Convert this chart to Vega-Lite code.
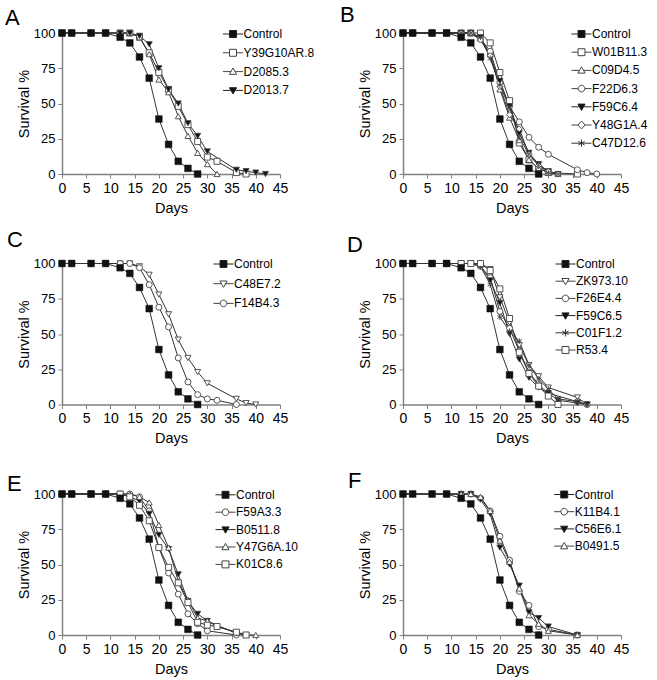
{
"$schema": "https://vega.github.io/schema/vega-lite/v6.json",
"padding": {"left": 5, "top": 4, "right": 5, "bottom": 5},
"datasets": {"surv": [
{"panel":"all","series":"Control","day":0,"pct":100},{"panel":"all","series":"Control","day":2,"pct":100},{"panel":"all","series":"Control","day":6,"pct":100},{"panel":"all","series":"Control","day":9,"pct":100},{"panel":"all","series":"Control","day":12,"pct":97},{"panel":"all","series":"Control","day":14,"pct":93},{"panel":"all","series":"Control","day":16,"pct":83},{"panel":"all","series":"Control","day":18,"pct":68},{"panel":"all","series":"Control","day":20,"pct":39},{"panel":"all","series":"Control","day":22,"pct":21},{"panel":"all","series":"Control","day":24,"pct":9},{"panel":"all","series":"Control","day":26,"pct":4},{"panel":"all","series":"Control","day":28,"pct":0},

{"panel":"A","series":"Y39G10AR.8","day":0,"pct":100},{"panel":"A","series":"Y39G10AR.8","day":2,"pct":100},{"panel":"A","series":"Y39G10AR.8","day":6,"pct":100},{"panel":"A","series":"Y39G10AR.8","day":9,"pct":100},{"panel":"A","series":"Y39G10AR.8","day":12,"pct":100},{"panel":"A","series":"Y39G10AR.8","day":14,"pct":100},{"panel":"A","series":"Y39G10AR.8","day":16,"pct":97},{"panel":"A","series":"Y39G10AR.8","day":18,"pct":86},{"panel":"A","series":"Y39G10AR.8","day":20,"pct":72},{"panel":"A","series":"Y39G10AR.8","day":22,"pct":60},{"panel":"A","series":"Y39G10AR.8","day":24,"pct":48},{"panel":"A","series":"Y39G10AR.8","day":26,"pct":35},{"panel":"A","series":"Y39G10AR.8","day":28,"pct":23},{"panel":"A","series":"Y39G10AR.8","day":30,"pct":12},{"panel":"A","series":"Y39G10AR.8","day":32,"pct":9},{"panel":"A","series":"Y39G10AR.8","day":36,"pct":1},{"panel":"A","series":"Y39G10AR.8","day":38,"pct":0},
{"panel":"A","series":"D2085.3","day":0,"pct":100},{"panel":"A","series":"D2085.3","day":2,"pct":100},{"panel":"A","series":"D2085.3","day":6,"pct":100},{"panel":"A","series":"D2085.3","day":9,"pct":100},{"panel":"A","series":"D2085.3","day":12,"pct":100},{"panel":"A","series":"D2085.3","day":14,"pct":100},{"panel":"A","series":"D2085.3","day":16,"pct":97},{"panel":"A","series":"D2085.3","day":18,"pct":85},{"panel":"A","series":"D2085.3","day":20,"pct":67},{"panel":"A","series":"D2085.3","day":22,"pct":58},{"panel":"A","series":"D2085.3","day":24,"pct":41},{"panel":"A","series":"D2085.3","day":26,"pct":27},{"panel":"A","series":"D2085.3","day":28,"pct":15},{"panel":"A","series":"D2085.3","day":30,"pct":7},{"panel":"A","series":"D2085.3","day":32,"pct":0},
{"panel":"A","series":"D2013.7","day":0,"pct":100},{"panel":"A","series":"D2013.7","day":2,"pct":100},{"panel":"A","series":"D2013.7","day":6,"pct":100},{"panel":"A","series":"D2013.7","day":9,"pct":100},{"panel":"A","series":"D2013.7","day":12,"pct":100},{"panel":"A","series":"D2013.7","day":14,"pct":100},{"panel":"A","series":"D2013.7","day":16,"pct":98},{"panel":"A","series":"D2013.7","day":18,"pct":92},{"panel":"A","series":"D2013.7","day":20,"pct":75},{"panel":"A","series":"D2013.7","day":22,"pct":60},{"panel":"A","series":"D2013.7","day":24,"pct":50},{"panel":"A","series":"D2013.7","day":26,"pct":36},{"panel":"A","series":"D2013.7","day":28,"pct":27},{"panel":"A","series":"D2013.7","day":30,"pct":16},{"panel":"A","series":"D2013.7","day":36,"pct":3},{"panel":"A","series":"D2013.7","day":38,"pct":2},{"panel":"A","series":"D2013.7","day":40,"pct":1},{"panel":"A","series":"D2013.7","day":42,"pct":0},

{"panel":"B","series":"W01B11.3","day":0,"pct":100},{"panel":"B","series":"W01B11.3","day":2,"pct":100},{"panel":"B","series":"W01B11.3","day":6,"pct":100},{"panel":"B","series":"W01B11.3","day":9,"pct":100},{"panel":"B","series":"W01B11.3","day":12,"pct":100},{"panel":"B","series":"W01B11.3","day":14,"pct":100},{"panel":"B","series":"W01B11.3","day":16,"pct":100},{"panel":"B","series":"W01B11.3","day":18,"pct":93},{"panel":"B","series":"W01B11.3","day":20,"pct":72},{"panel":"B","series":"W01B11.3","day":22,"pct":52},{"panel":"B","series":"W01B11.3","day":24,"pct":22},{"panel":"B","series":"W01B11.3","day":26,"pct":10},{"panel":"B","series":"W01B11.3","day":28,"pct":4},{"panel":"B","series":"W01B11.3","day":30,"pct":1},{"panel":"B","series":"W01B11.3","day":36,"pct":0},
{"panel":"B","series":"C09D4.5","day":0,"pct":100},{"panel":"B","series":"C09D4.5","day":2,"pct":100},{"panel":"B","series":"C09D4.5","day":6,"pct":100},{"panel":"B","series":"C09D4.5","day":9,"pct":100},{"panel":"B","series":"C09D4.5","day":12,"pct":100},{"panel":"B","series":"C09D4.5","day":14,"pct":100},{"panel":"B","series":"C09D4.5","day":16,"pct":96},{"panel":"B","series":"C09D4.5","day":18,"pct":85},{"panel":"B","series":"C09D4.5","day":20,"pct":60},{"panel":"B","series":"C09D4.5","day":22,"pct":40},{"panel":"B","series":"C09D4.5","day":24,"pct":24},{"panel":"B","series":"C09D4.5","day":26,"pct":10},{"panel":"B","series":"C09D4.5","day":28,"pct":4},{"panel":"B","series":"C09D4.5","day":30,"pct":1},{"panel":"B","series":"C09D4.5","day":32,"pct":0},
{"panel":"B","series":"F22D6.3","day":0,"pct":100},{"panel":"B","series":"F22D6.3","day":2,"pct":100},{"panel":"B","series":"F22D6.3","day":6,"pct":100},{"panel":"B","series":"F22D6.3","day":9,"pct":100},{"panel":"B","series":"F22D6.3","day":12,"pct":100},{"panel":"B","series":"F22D6.3","day":14,"pct":100},{"panel":"B","series":"F22D6.3","day":16,"pct":96},{"panel":"B","series":"F22D6.3","day":18,"pct":87},{"panel":"B","series":"F22D6.3","day":20,"pct":65},{"panel":"B","series":"F22D6.3","day":22,"pct":48},{"panel":"B","series":"F22D6.3","day":24,"pct":37},{"panel":"B","series":"F22D6.3","day":26,"pct":26},{"panel":"B","series":"F22D6.3","day":28,"pct":19},{"panel":"B","series":"F22D6.3","day":30,"pct":14},{"panel":"B","series":"F22D6.3","day":36,"pct":3},{"panel":"B","series":"F22D6.3","day":38,"pct":1},{"panel":"B","series":"F22D6.3","day":40,"pct":0},
{"panel":"B","series":"F59C6.4","day":0,"pct":100},{"panel":"B","series":"F59C6.4","day":2,"pct":100},{"panel":"B","series":"F59C6.4","day":6,"pct":100},{"panel":"B","series":"F59C6.4","day":9,"pct":100},{"panel":"B","series":"F59C6.4","day":12,"pct":100},{"panel":"B","series":"F59C6.4","day":14,"pct":100},{"panel":"B","series":"F59C6.4","day":16,"pct":97},{"panel":"B","series":"F59C6.4","day":18,"pct":83},{"panel":"B","series":"F59C6.4","day":20,"pct":66},{"panel":"B","series":"F59C6.4","day":22,"pct":48},{"panel":"B","series":"F59C6.4","day":24,"pct":29},{"panel":"B","series":"F59C6.4","day":26,"pct":15},{"panel":"B","series":"F59C6.4","day":28,"pct":7},{"panel":"B","series":"F59C6.4","day":30,"pct":2},{"panel":"B","series":"F59C6.4","day":32,"pct":0},
{"panel":"B","series":"Y48G1A.4","day":0,"pct":100},{"panel":"B","series":"Y48G1A.4","day":2,"pct":100},{"panel":"B","series":"Y48G1A.4","day":6,"pct":100},{"panel":"B","series":"Y48G1A.4","day":9,"pct":100},{"panel":"B","series":"Y48G1A.4","day":12,"pct":100},{"panel":"B","series":"Y48G1A.4","day":14,"pct":100},{"panel":"B","series":"Y48G1A.4","day":16,"pct":95},{"panel":"B","series":"Y48G1A.4","day":18,"pct":84},{"panel":"B","series":"Y48G1A.4","day":20,"pct":62},{"panel":"B","series":"Y48G1A.4","day":22,"pct":42},{"panel":"B","series":"Y48G1A.4","day":24,"pct":32},{"panel":"B","series":"Y48G1A.4","day":26,"pct":14},{"panel":"B","series":"Y48G1A.4","day":28,"pct":6},{"panel":"B","series":"Y48G1A.4","day":30,"pct":2},{"panel":"B","series":"Y48G1A.4","day":32,"pct":0},
{"panel":"B","series":"C47D12.6","day":0,"pct":100},{"panel":"B","series":"C47D12.6","day":2,"pct":100},{"panel":"B","series":"C47D12.6","day":6,"pct":100},{"panel":"B","series":"C47D12.6","day":9,"pct":100},{"panel":"B","series":"C47D12.6","day":12,"pct":100},{"panel":"B","series":"C47D12.6","day":14,"pct":100},{"panel":"B","series":"C47D12.6","day":16,"pct":97},{"panel":"B","series":"C47D12.6","day":18,"pct":82},{"panel":"B","series":"C47D12.6","day":20,"pct":63},{"panel":"B","series":"C47D12.6","day":22,"pct":47},{"panel":"B","series":"C47D12.6","day":24,"pct":26},{"panel":"B","series":"C47D12.6","day":26,"pct":14},{"panel":"B","series":"C47D12.6","day":28,"pct":6},{"panel":"B","series":"C47D12.6","day":30,"pct":1},{"panel":"B","series":"C47D12.6","day":32,"pct":0},

{"panel":"C","series":"C48E7.2","day":0,"pct":100},{"panel":"C","series":"C48E7.2","day":2,"pct":100},{"panel":"C","series":"C48E7.2","day":6,"pct":100},{"panel":"C","series":"C48E7.2","day":9,"pct":100},{"panel":"C","series":"C48E7.2","day":12,"pct":100},{"panel":"C","series":"C48E7.2","day":14,"pct":100},{"panel":"C","series":"C48E7.2","day":16,"pct":98},{"panel":"C","series":"C48E7.2","day":18,"pct":92},{"panel":"C","series":"C48E7.2","day":20,"pct":78},{"panel":"C","series":"C48E7.2","day":22,"pct":64},{"panel":"C","series":"C48E7.2","day":24,"pct":46},{"panel":"C","series":"C48E7.2","day":26,"pct":33},{"panel":"C","series":"C48E7.2","day":28,"pct":23},{"panel":"C","series":"C48E7.2","day":30,"pct":15},{"panel":"C","series":"C48E7.2","day":36,"pct":4},{"panel":"C","series":"C48E7.2","day":38,"pct":1},{"panel":"C","series":"C48E7.2","day":40,"pct":0},
{"panel":"C","series":"F14B4.3","day":0,"pct":100},{"panel":"C","series":"F14B4.3","day":2,"pct":100},{"panel":"C","series":"F14B4.3","day":6,"pct":100},{"panel":"C","series":"F14B4.3","day":9,"pct":100},{"panel":"C","series":"F14B4.3","day":12,"pct":100},{"panel":"C","series":"F14B4.3","day":14,"pct":100},{"panel":"C","series":"F14B4.3","day":16,"pct":97},{"panel":"C","series":"F14B4.3","day":18,"pct":85},{"panel":"C","series":"F14B4.3","day":20,"pct":69},{"panel":"C","series":"F14B4.3","day":22,"pct":55},{"panel":"C","series":"F14B4.3","day":24,"pct":33},{"panel":"C","series":"F14B4.3","day":26,"pct":16},{"panel":"C","series":"F14B4.3","day":28,"pct":7},{"panel":"C","series":"F14B4.3","day":30,"pct":4},{"panel":"C","series":"F14B4.3","day":32,"pct":3},{"panel":"C","series":"F14B4.3","day":36,"pct":0},

{"panel":"D","series":"ZK973.10","day":0,"pct":100},{"panel":"D","series":"ZK973.10","day":2,"pct":100},{"panel":"D","series":"ZK973.10","day":6,"pct":100},{"panel":"D","series":"ZK973.10","day":9,"pct":100},{"panel":"D","series":"ZK973.10","day":12,"pct":100},{"panel":"D","series":"ZK973.10","day":14,"pct":100},{"panel":"D","series":"ZK973.10","day":16,"pct":100},{"panel":"D","series":"ZK973.10","day":18,"pct":96},{"panel":"D","series":"ZK973.10","day":20,"pct":76},{"panel":"D","series":"ZK973.10","day":22,"pct":58},{"panel":"D","series":"ZK973.10","day":24,"pct":42},{"panel":"D","series":"ZK973.10","day":26,"pct":28},{"panel":"D","series":"ZK973.10","day":28,"pct":20},{"panel":"D","series":"ZK973.10","day":30,"pct":12},{"panel":"D","series":"ZK973.10","day":36,"pct":5},{"panel":"D","series":"ZK973.10","day":38,"pct":0},
{"panel":"D","series":"F26E4.4","day":0,"pct":100},{"panel":"D","series":"F26E4.4","day":2,"pct":100},{"panel":"D","series":"F26E4.4","day":6,"pct":100},{"panel":"D","series":"F26E4.4","day":9,"pct":100},{"panel":"D","series":"F26E4.4","day":12,"pct":100},{"panel":"D","series":"F26E4.4","day":14,"pct":100},{"panel":"D","series":"F26E4.4","day":16,"pct":98},{"panel":"D","series":"F26E4.4","day":18,"pct":90},{"panel":"D","series":"F26E4.4","day":20,"pct":66},{"panel":"D","series":"F26E4.4","day":22,"pct":54},{"panel":"D","series":"F26E4.4","day":24,"pct":38},{"panel":"D","series":"F26E4.4","day":26,"pct":23},{"panel":"D","series":"F26E4.4","day":28,"pct":14},{"panel":"D","series":"F26E4.4","day":30,"pct":8},{"panel":"D","series":"F26E4.4","day":36,"pct":2},{"panel":"D","series":"F26E4.4","day":38,"pct":0},
{"panel":"D","series":"F59C6.5","day":0,"pct":100},{"panel":"D","series":"F59C6.5","day":2,"pct":100},{"panel":"D","series":"F59C6.5","day":6,"pct":100},{"panel":"D","series":"F59C6.5","day":9,"pct":100},{"panel":"D","series":"F59C6.5","day":12,"pct":100},{"panel":"D","series":"F59C6.5","day":14,"pct":100},{"panel":"D","series":"F59C6.5","day":16,"pct":98},{"panel":"D","series":"F59C6.5","day":18,"pct":88},{"panel":"D","series":"F59C6.5","day":20,"pct":72},{"panel":"D","series":"F59C6.5","day":22,"pct":50},{"panel":"D","series":"F59C6.5","day":24,"pct":32},{"panel":"D","series":"F59C6.5","day":26,"pct":19},{"panel":"D","series":"F59C6.5","day":28,"pct":12},{"panel":"D","series":"F59C6.5","day":30,"pct":8},{"panel":"D","series":"F59C6.5","day":32,"pct":3},{"panel":"D","series":"F59C6.5","day":36,"pct":1},{"panel":"D","series":"F59C6.5","day":38,"pct":0},
{"panel":"D","series":"C01F1.2","day":0,"pct":100},{"panel":"D","series":"C01F1.2","day":2,"pct":100},{"panel":"D","series":"C01F1.2","day":6,"pct":100},{"panel":"D","series":"C01F1.2","day":9,"pct":100},{"panel":"D","series":"C01F1.2","day":12,"pct":100},{"panel":"D","series":"C01F1.2","day":14,"pct":100},{"panel":"D","series":"C01F1.2","day":16,"pct":98},{"panel":"D","series":"C01F1.2","day":18,"pct":85},{"panel":"D","series":"C01F1.2","day":20,"pct":62},{"panel":"D","series":"C01F1.2","day":22,"pct":52},{"panel":"D","series":"C01F1.2","day":24,"pct":45},{"panel":"D","series":"C01F1.2","day":26,"pct":28},{"panel":"D","series":"C01F1.2","day":28,"pct":18},{"panel":"D","series":"C01F1.2","day":30,"pct":11},{"panel":"D","series":"C01F1.2","day":32,"pct":4},{"panel":"D","series":"C01F1.2","day":36,"pct":2},{"panel":"D","series":"C01F1.2","day":38,"pct":0},
{"panel":"D","series":"R53.4","day":0,"pct":100},{"panel":"D","series":"R53.4","day":2,"pct":100},{"panel":"D","series":"R53.4","day":6,"pct":100},{"panel":"D","series":"R53.4","day":9,"pct":100},{"panel":"D","series":"R53.4","day":12,"pct":100},{"panel":"D","series":"R53.4","day":14,"pct":100},{"panel":"D","series":"R53.4","day":16,"pct":100},{"panel":"D","series":"R53.4","day":18,"pct":95},{"panel":"D","series":"R53.4","day":20,"pct":82},{"panel":"D","series":"R53.4","day":22,"pct":61},{"panel":"D","series":"R53.4","day":24,"pct":37},{"panel":"D","series":"R53.4","day":26,"pct":22},{"panel":"D","series":"R53.4","day":28,"pct":13},{"panel":"D","series":"R53.4","day":30,"pct":6},{"panel":"D","series":"R53.4","day":32,"pct":0},

{"panel":"E","series":"F59A3.3","day":0,"pct":100},{"panel":"E","series":"F59A3.3","day":2,"pct":100},{"panel":"E","series":"F59A3.3","day":6,"pct":100},{"panel":"E","series":"F59A3.3","day":9,"pct":100},{"panel":"E","series":"F59A3.3","day":12,"pct":100},{"panel":"E","series":"F59A3.3","day":14,"pct":100},{"panel":"E","series":"F59A3.3","day":16,"pct":98},{"panel":"E","series":"F59A3.3","day":18,"pct":88},{"panel":"E","series":"F59A3.3","day":20,"pct":62},{"panel":"E","series":"F59A3.3","day":22,"pct":44},{"panel":"E","series":"F59A3.3","day":24,"pct":29},{"panel":"E","series":"F59A3.3","day":26,"pct":15},{"panel":"E","series":"F59A3.3","day":28,"pct":8},{"panel":"E","series":"F59A3.3","day":30,"pct":3},{"panel":"E","series":"F59A3.3","day":36,"pct":0},
{"panel":"E","series":"B0511.8","day":0,"pct":100},{"panel":"E","series":"B0511.8","day":2,"pct":100},{"panel":"E","series":"B0511.8","day":6,"pct":100},{"panel":"E","series":"B0511.8","day":9,"pct":100},{"panel":"E","series":"B0511.8","day":12,"pct":100},{"panel":"E","series":"B0511.8","day":14,"pct":98},{"panel":"E","series":"B0511.8","day":16,"pct":95},{"panel":"E","series":"B0511.8","day":18,"pct":86},{"panel":"E","series":"B0511.8","day":20,"pct":71},{"panel":"E","series":"B0511.8","day":22,"pct":61},{"panel":"E","series":"B0511.8","day":24,"pct":43},{"panel":"E","series":"B0511.8","day":26,"pct":24},{"panel":"E","series":"B0511.8","day":28,"pct":15},{"panel":"E","series":"B0511.8","day":30,"pct":10},{"panel":"E","series":"B0511.8","day":36,"pct":1},{"panel":"E","series":"B0511.8","day":38,"pct":0},
{"panel":"E","series":"Y47G6A.10","day":0,"pct":100},{"panel":"E","series":"Y47G6A.10","day":2,"pct":100},{"panel":"E","series":"Y47G6A.10","day":6,"pct":100},{"panel":"E","series":"Y47G6A.10","day":9,"pct":100},{"panel":"E","series":"Y47G6A.10","day":12,"pct":100},{"panel":"E","series":"Y47G6A.10","day":14,"pct":100},{"panel":"E","series":"Y47G6A.10","day":16,"pct":98},{"panel":"E","series":"Y47G6A.10","day":18,"pct":94},{"panel":"E","series":"Y47G6A.10","day":20,"pct":78},{"panel":"E","series":"Y47G6A.10","day":22,"pct":62},{"panel":"E","series":"Y47G6A.10","day":24,"pct":38},{"panel":"E","series":"Y47G6A.10","day":26,"pct":25},{"panel":"E","series":"Y47G6A.10","day":28,"pct":12},{"panel":"E","series":"Y47G6A.10","day":30,"pct":10},{"panel":"E","series":"Y47G6A.10","day":32,"pct":6},{"panel":"E","series":"Y47G6A.10","day":36,"pct":2},{"panel":"E","series":"Y47G6A.10","day":38,"pct":0},{"panel":"E","series":"Y47G6A.10","day":40,"pct":0},
{"panel":"E","series":"K01C8.6","day":0,"pct":100},{"panel":"E","series":"K01C8.6","day":2,"pct":100},{"panel":"E","series":"K01C8.6","day":6,"pct":100},{"panel":"E","series":"K01C8.6","day":9,"pct":100},{"panel":"E","series":"K01C8.6","day":12,"pct":100},{"panel":"E","series":"K01C8.6","day":14,"pct":98},{"panel":"E","series":"K01C8.6","day":16,"pct":92},{"panel":"E","series":"K01C8.6","day":18,"pct":81},{"panel":"E","series":"K01C8.6","day":20,"pct":62},{"panel":"E","series":"K01C8.6","day":22,"pct":48},{"panel":"E","series":"K01C8.6","day":24,"pct":37},{"panel":"E","series":"K01C8.6","day":26,"pct":23},{"panel":"E","series":"K01C8.6","day":28,"pct":9},{"panel":"E","series":"K01C8.6","day":30,"pct":7},{"panel":"E","series":"K01C8.6","day":32,"pct":6},{"panel":"E","series":"K01C8.6","day":36,"pct":2},{"panel":"E","series":"K01C8.6","day":38,"pct":0},

{"panel":"F","series":"K11B4.1","day":0,"pct":100},{"panel":"F","series":"K11B4.1","day":2,"pct":100},{"panel":"F","series":"K11B4.1","day":6,"pct":100},{"panel":"F","series":"K11B4.1","day":9,"pct":100},{"panel":"F","series":"K11B4.1","day":12,"pct":100},{"panel":"F","series":"K11B4.1","day":14,"pct":100},{"panel":"F","series":"K11B4.1","day":16,"pct":97},{"panel":"F","series":"K11B4.1","day":18,"pct":88},{"panel":"F","series":"K11B4.1","day":20,"pct":70},{"panel":"F","series":"K11B4.1","day":22,"pct":53},{"panel":"F","series":"K11B4.1","day":24,"pct":31},{"panel":"F","series":"K11B4.1","day":26,"pct":21},{"panel":"F","series":"K11B4.1","day":28,"pct":6},{"panel":"F","series":"K11B4.1","day":30,"pct":4},{"panel":"F","series":"K11B4.1","day":36,"pct":0},
{"panel":"F","series":"C56E6.1","day":0,"pct":100},{"panel":"F","series":"C56E6.1","day":2,"pct":100},{"panel":"F","series":"C56E6.1","day":6,"pct":100},{"panel":"F","series":"C56E6.1","day":9,"pct":100},{"panel":"F","series":"C56E6.1","day":12,"pct":100},{"panel":"F","series":"C56E6.1","day":14,"pct":100},{"panel":"F","series":"C56E6.1","day":16,"pct":96},{"panel":"F","series":"C56E6.1","day":18,"pct":86},{"panel":"F","series":"C56E6.1","day":20,"pct":62},{"panel":"F","series":"C56E6.1","day":22,"pct":50},{"panel":"F","series":"C56E6.1","day":24,"pct":35},{"panel":"F","series":"C56E6.1","day":26,"pct":16},{"panel":"F","series":"C56E6.1","day":28,"pct":12},{"panel":"F","series":"C56E6.1","day":30,"pct":6},{"panel":"F","series":"C56E6.1","day":36,"pct":0},
{"panel":"F","series":"B0491.5","day":0,"pct":100},{"panel":"F","series":"B0491.5","day":2,"pct":100},{"panel":"F","series":"B0491.5","day":6,"pct":100},{"panel":"F","series":"B0491.5","day":9,"pct":100},{"panel":"F","series":"B0491.5","day":12,"pct":100},{"panel":"F","series":"B0491.5","day":14,"pct":100},{"panel":"F","series":"B0491.5","day":16,"pct":98},{"panel":"F","series":"B0491.5","day":18,"pct":88},{"panel":"F","series":"B0491.5","day":20,"pct":67},{"panel":"F","series":"B0491.5","day":22,"pct":52},{"panel":"F","series":"B0491.5","day":24,"pct":33},{"panel":"F","series":"B0491.5","day":26,"pct":14},{"panel":"F","series":"B0491.5","day":28,"pct":8},{"panel":"F","series":"B0491.5","day":30,"pct":3},{"panel":"F","series":"B0491.5","day":36,"pct":0}
]},
"columns": 2,
"spacing": {"row": 89.5, "column": 123},
"bounds": "flush",
"concat": [
{
 "data": {"name": "surv"}, "width": 218, "height": 141,
 "title": {"text": "A", "dx": -57, "offset": -3},
 "transform": [{"filter": "datum.panel === 'A' || datum.panel === 'all'"}],
 "encoding": {
  "x": {"field": "day", "type": "quantitative", "scale": {"domain": [0, 45], "nice": false}, "axis": {"title": "Days", "values": [0,5,10,15,20,25,30,35,40,45]}},
  "y": {"field": "pct", "type": "quantitative", "scale": {"domain": [0, 100]}, "axis": {"title": "Survival %", "values": [0,25,50,75,100]}}
 },
 "layer": [
  {"mark": {"type": "line", "stroke": "#333", "strokeWidth": 1}, "encoding": {"detail": {"field": "series"}}},
  {"transform": [{"filter": "datum.series !== 'Control'"}], "mark": {"type": "point", "filled": true, "stroke": "#444", "strokeWidth": 0.9, "size": 36, "opacity": 1},
   "encoding": {
    "shape": {"field": "series", "scale": {"domain": ["Control","Y39G10AR.8","D2085.3","D2013.7"], "range": ["square","square","triangle-up","triangle-down"]}, "legend": null},
    "fill": {"field": "series", "scale": {"domain": ["Control","Y39G10AR.8","D2085.3","D2013.7"], "range": ["#111","white","white","#111"]}, "legend": null}}},
  {"transform": [{"filter": "datum.series === 'Control'"}], "mark": {"type": "point", "shape": "square", "filled": true, "fill": "#111", "stroke": "#111", "strokeWidth": 0.5, "size": 45, "opacity": 1}},
  {"transform": [{"filter": "false"}], "mark": {"type": "point", "filled": true, "strokeWidth": 1, "opacity": 1},
   "encoding": {
    "shape": {"field": "series", "scale": {"domain": ["Control","Y39G10AR.8","D2085.3","D2013.7"], "range": [
      "M-1.67,0H-0.58M0.58,0H1.67M-0.58,-0.58H0.58V0.58H-0.58Z",
      "M-1.67,0H-0.58M0.58,0H1.67M-0.58,-0.58H0.58V0.58H-0.58Z",
      "M-1.67,0H-0.34M0.34,0H1.67M0,-0.6L0.6,0.45H-0.6Z",
      "M-1.67,0H-0.34M0.34,0H1.67M0,0.6L0.6,-0.45H-0.6Z"]},
     "legend": {"title": null, "orient": "none", "legendX": 164.5, "legendY": -5.5, "rowPadding": 5.8}},
    "fill": {"field": "series", "scale": {"domain": ["Control","Y39G10AR.8","D2085.3","D2013.7"], "range": ["#111","white","white","#111"]},
     "legend": {"title": null, "orient": "none", "legendX": 164.5, "legendY": -5.5, "rowPadding": 5.8}},
    "stroke": {"field": "series", "scale": {"domain": ["Control","Y39G10AR.8","D2085.3","D2013.7"], "range": ["#222","#444","#444","#222"]},
     "legend": {"title": null, "orient": "none", "legendX": 164.5, "legendY": -5.5, "rowPadding": 5.8}}}}
 ],
 "resolve": {"scale": {"shape": "independent", "fill": "independent", "stroke": "independent"}}
},
{
 "data": {"name": "surv"}, "width": 218, "height": 141,
 "title": {"text": "B", "dx": -63, "offset": 0},
 "transform": [{"filter": "datum.panel === 'B' || datum.panel === 'all'"}],
 "encoding": {
  "x": {"field": "day", "type": "quantitative", "scale": {"domain": [0, 45], "nice": false}, "axis": {"title": "Days", "values": [0,5,10,15,20,25,30,35,40,45]}},
  "y": {"field": "pct", "type": "quantitative", "scale": {"domain": [0, 100]}, "axis": {"title": "Survival %", "values": [0,25,50,75,100]}}
 },
 "layer": [
  {"mark": {"type": "line", "stroke": "#333", "strokeWidth": 1}, "encoding": {"detail": {"field": "series"}}},
  {"transform": [{"filter": "datum.series !== 'Control'"}], "mark": {"type": "point", "filled": true, "stroke": "#444", "strokeWidth": 0.9, "size": 36, "opacity": 1},
   "encoding": {
    "shape": {"field": "series", "scale": {"domain": ["Control","W01B11.3","C09D4.5","F22D6.3","F59C6.4","Y48G1A.4","C47D12.6"], "range": ["square","square","triangle-up","circle","triangle-down","diamond","M0,-1V1M-0.87,-0.5L0.87,0.5M-0.87,0.5L0.87,-0.5"]}, "legend": null},
    "fill": {"field": "series", "scale": {"domain": ["Control","W01B11.3","C09D4.5","F22D6.3","F59C6.4","Y48G1A.4","C47D12.6"], "range": ["#111","white","white","white","#111","white","#333"]}, "legend": null}}},
  {"transform": [{"filter": "datum.series === 'Control'"}], "mark": {"type": "point", "shape": "square", "filled": true, "fill": "#111", "stroke": "#111", "strokeWidth": 0.5, "size": 45, "opacity": 1}},
  {"transform": [{"filter": "false"}], "mark": {"type": "point", "filled": true, "strokeWidth": 1, "opacity": 1},
   "encoding": {
    "shape": {"field": "series", "scale": {"domain": ["Control","W01B11.3","C09D4.5","F22D6.3","F59C6.4","Y48G1A.4","C47D12.6"], "range": [
      "M-1.67,0H-0.58M0.58,0H1.67M-0.58,-0.58H0.58V0.58H-0.58Z",
      "M-1.67,0H-0.58M0.58,0H1.67M-0.58,-0.58H0.58V0.58H-0.58Z",
      "M-1.67,0H-0.34M0.34,0H1.67M0,-0.6L0.6,0.45H-0.6Z",
      "M-1.67,0H-0.55M0.55,0H1.67M-0.55,0A0.55,0.55 0 1,1 0.55,0A0.55,0.55 0 1,1 -0.55,0Z",
      "M-1.67,0H-0.34M0.34,0H1.67M0,0.6L0.6,-0.45H-0.6Z",
      "M-1.67,0H-0.6M0.6,0H1.67M0,-0.65L0.6,0L0,0.65L-0.6,0Z",
      "M-1.67,0H1.67M0,-0.6V0.6M-0.52,-0.3L0.52,0.3M-0.52,0.3L0.52,-0.3"]},
     "legend": {"title": null, "orient": "none", "legendX": 172, "legendY": -5.5, "rowPadding": 5.2}},
    "fill": {"field": "series", "scale": {"domain": ["Control","W01B11.3","C09D4.5","F22D6.3","F59C6.4","Y48G1A.4","C47D12.6"], "range": ["#111","white","white","white","#111","white","#333"]},
     "legend": {"title": null, "orient": "none", "legendX": 172, "legendY": -5.5, "rowPadding": 5.2}},
    "stroke": {"field": "series", "scale": {"domain": ["Control","W01B11.3","C09D4.5","F22D6.3","F59C6.4","Y48G1A.4","C47D12.6"], "range": ["#222","#444","#444","#444","#222","#444","#333"]},
     "legend": {"title": null, "orient": "none", "legendX": 172, "legendY": -5.5, "rowPadding": 5.2}}}}
 ],
 "resolve": {"scale": {"shape": "independent", "fill": "independent", "stroke": "independent"}}
},
{
 "data": {"name": "surv"}, "width": 218, "height": 141,
 "title": {"text": "C", "dx": -55, "offset": 6},
 "transform": [{"filter": "datum.panel === 'C' || datum.panel === 'all'"}],
 "encoding": {
  "x": {"field": "day", "type": "quantitative", "scale": {"domain": [0, 45], "nice": false}, "axis": {"title": "Days", "values": [0,5,10,15,20,25,30,35,40,45]}},
  "y": {"field": "pct", "type": "quantitative", "scale": {"domain": [0, 100]}, "axis": {"title": "Survival %", "values": [0,25,50,75,100]}}
 },
 "layer": [
  {"mark": {"type": "line", "stroke": "#333", "strokeWidth": 1}, "encoding": {"detail": {"field": "series"}}},
  {"transform": [{"filter": "datum.series !== 'Control'"}], "mark": {"type": "point", "filled": true, "stroke": "#444", "strokeWidth": 0.9, "size": 36, "opacity": 1},
   "encoding": {
    "shape": {"field": "series", "scale": {"domain": ["Control","C48E7.2","F14B4.3"], "range": ["square","triangle-down","circle"]}, "legend": null},
    "fill": {"field": "series", "scale": {"domain": ["Control","C48E7.2","F14B4.3"], "range": ["#111","white","white"]}, "legend": null}}},
  {"transform": [{"filter": "datum.series === 'Control'"}], "mark": {"type": "point", "shape": "square", "filled": true, "fill": "#111", "stroke": "#111", "strokeWidth": 0.5, "size": 45, "opacity": 1}},
  {"transform": [{"filter": "false"}], "mark": {"type": "point", "filled": true, "strokeWidth": 1, "opacity": 1},
   "encoding": {
    "shape": {"field": "series", "scale": {"domain": ["Control","C48E7.2","F14B4.3"], "range": [
      "M-1.67,0H-0.58M0.58,0H1.67M-0.58,-0.58H0.58V0.58H-0.58Z",
      "M-1.67,0H-0.34M0.34,0H1.67M0,0.6L0.6,-0.45H-0.6Z",
      "M-1.67,0H-0.55M0.55,0H1.67M-0.55,0A0.55,0.55 0 1,1 0.55,0A0.55,0.55 0 1,1 -0.55,0Z"]},
     "legend": {"title": null, "orient": "none", "legendX": 155, "legendY": -6, "rowPadding": 6.7}},
    "fill": {"field": "series", "scale": {"domain": ["Control","C48E7.2","F14B4.3"], "range": ["#111","white","white"]},
     "legend": {"title": null, "orient": "none", "legendX": 155, "legendY": -6, "rowPadding": 6.7}},
    "stroke": {"field": "series", "scale": {"domain": ["Control","C48E7.2","F14B4.3"], "range": ["#222","#444","#444"]},
     "legend": {"title": null, "orient": "none", "legendX": 155, "legendY": -6, "rowPadding": 6.7}}}}
 ],
 "resolve": {"scale": {"shape": "independent", "fill": "independent", "stroke": "independent"}}
},
{
 "data": {"name": "surv"}, "width": 218, "height": 141,
 "title": {"text": "D", "dx": -56, "offset": 1},
 "transform": [{"filter": "datum.panel === 'D' || datum.panel === 'all'"}],
 "encoding": {
  "x": {"field": "day", "type": "quantitative", "scale": {"domain": [0, 45], "nice": false}, "axis": {"title": "Days", "values": [0,5,10,15,20,25,30,35,40,45]}},
  "y": {"field": "pct", "type": "quantitative", "scale": {"domain": [0, 100]}, "axis": {"title": "Survival %", "values": [0,25,50,75,100]}}
 },
 "layer": [
  {"mark": {"type": "line", "stroke": "#333", "strokeWidth": 1}, "encoding": {"detail": {"field": "series"}}},
  {"transform": [{"filter": "datum.series !== 'Control'"}], "mark": {"type": "point", "filled": true, "stroke": "#444", "strokeWidth": 0.9, "size": 36, "opacity": 1},
   "encoding": {
    "shape": {"field": "series", "scale": {"domain": ["Control","ZK973.10","F26E4.4","F59C6.5","C01F1.2","R53.4"], "range": ["square","triangle-down","circle","triangle-down","M0,-1V1M-0.87,-0.5L0.87,0.5M-0.87,0.5L0.87,-0.5","square"]}, "legend": null},
    "fill": {"field": "series", "scale": {"domain": ["Control","ZK973.10","F26E4.4","F59C6.5","C01F1.2","R53.4"], "range": ["#111","white","white","#111","#333","white"]}, "legend": null}}},
  {"transform": [{"filter": "datum.series === 'Control'"}], "mark": {"type": "point", "shape": "square", "filled": true, "fill": "#111", "stroke": "#111", "strokeWidth": 0.5, "size": 45, "opacity": 1}},
  {"transform": [{"filter": "false"}], "mark": {"type": "point", "filled": true, "strokeWidth": 1, "opacity": 1},
   "encoding": {
    "shape": {"field": "series", "scale": {"domain": ["Control","ZK973.10","F26E4.4","F59C6.5","C01F1.2","R53.4"], "range": [
      "M-1.67,0H-0.58M0.58,0H1.67M-0.58,-0.58H0.58V0.58H-0.58Z",
      "M-1.67,0H-0.34M0.34,0H1.67M0,0.6L0.6,-0.45H-0.6Z",
      "M-1.67,0H-0.55M0.55,0H1.67M-0.55,0A0.55,0.55 0 1,1 0.55,0A0.55,0.55 0 1,1 -0.55,0Z",
      "M-1.67,0H-0.34M0.34,0H1.67M0,0.6L0.6,-0.45H-0.6Z",
      "M-1.67,0H1.67M0,-0.6V0.6M-0.52,-0.3L0.52,0.3M-0.52,0.3L0.52,-0.3",
      "M-1.67,0H-0.58M0.58,0H1.67M-0.58,-0.58H0.58V0.58H-0.58Z"]},
     "legend": {"title": null, "orient": "none", "legendX": 156, "legendY": -6, "rowPadding": 4.2}},
    "fill": {"field": "series", "scale": {"domain": ["Control","ZK973.10","F26E4.4","F59C6.5","C01F1.2","R53.4"], "range": ["#111","white","white","#111","#333","white"]},
     "legend": {"title": null, "orient": "none", "legendX": 156, "legendY": -6, "rowPadding": 4.2}},
    "stroke": {"field": "series", "scale": {"domain": ["Control","ZK973.10","F26E4.4","F59C6.5","C01F1.2","R53.4"], "range": ["#222","#444","#444","#222","#333","#444"]},
     "legend": {"title": null, "orient": "none", "legendX": 156, "legendY": -6, "rowPadding": 4.2}}}}
 ],
 "resolve": {"scale": {"shape": "independent", "fill": "independent", "stroke": "independent"}}
},
{
 "data": {"name": "surv"}, "width": 218, "height": 141,
 "title": {"text": "E", "dx": -55, "offset": -8},
 "transform": [{"filter": "datum.panel === 'E' || datum.panel === 'all'"}],
 "encoding": {
  "x": {"field": "day", "type": "quantitative", "scale": {"domain": [0, 45], "nice": false}, "axis": {"title": "Days", "values": [0,5,10,15,20,25,30,35,40,45]}},
  "y": {"field": "pct", "type": "quantitative", "scale": {"domain": [0, 100]}, "axis": {"title": "Survival %", "values": [0,25,50,75,100]}}
 },
 "layer": [
  {"mark": {"type": "line", "stroke": "#333", "strokeWidth": 1}, "encoding": {"detail": {"field": "series"}}},
  {"transform": [{"filter": "datum.series !== 'Control'"}], "mark": {"type": "point", "filled": true, "stroke": "#444", "strokeWidth": 0.9, "size": 36, "opacity": 1},
   "encoding": {
    "shape": {"field": "series", "scale": {"domain": ["Control","F59A3.3","B0511.8","Y47G6A.10","K01C8.6"], "range": ["square","circle","triangle-down","triangle-up","square"]}, "legend": null},
    "fill": {"field": "series", "scale": {"domain": ["Control","F59A3.3","B0511.8","Y47G6A.10","K01C8.6"], "range": ["#111","white","#111","white","white"]}, "legend": null}}},
  {"transform": [{"filter": "datum.series === 'Control'"}], "mark": {"type": "point", "shape": "square", "filled": true, "fill": "#111", "stroke": "#111", "strokeWidth": 0.5, "size": 45, "opacity": 1}},
  {"transform": [{"filter": "false"}], "mark": {"type": "point", "filled": true, "strokeWidth": 1, "opacity": 1},
   "encoding": {
    "shape": {"field": "series", "scale": {"domain": ["Control","F59A3.3","B0511.8","Y47G6A.10","K01C8.6"], "range": [
      "M-1.67,0H-0.58M0.58,0H1.67M-0.58,-0.58H0.58V0.58H-0.58Z",
      "M-1.67,0H-0.55M0.55,0H1.67M-0.55,0A0.55,0.55 0 1,1 0.55,0A0.55,0.55 0 1,1 -0.55,0Z",
      "M-1.67,0H-0.34M0.34,0H1.67M0,0.6L0.6,-0.45H-0.6Z",
      "M-1.67,0H-0.34M0.34,0H1.67M0,-0.6L0.6,0.45H-0.6Z",
      "M-1.67,0H-0.58M0.58,0H1.67M-0.58,-0.58H0.58V0.58H-0.58Z"]},
     "legend": {"title": null, "orient": "none", "legendX": 157, "legendY": -5.7, "rowPadding": 4.4}},
    "fill": {"field": "series", "scale": {"domain": ["Control","F59A3.3","B0511.8","Y47G6A.10","K01C8.6"], "range": ["#111","white","#111","white","white"]},
     "legend": {"title": null, "orient": "none", "legendX": 157, "legendY": -5.7, "rowPadding": 4.4}},
    "stroke": {"field": "series", "scale": {"domain": ["Control","F59A3.3","B0511.8","Y47G6A.10","K01C8.6"], "range": ["#222","#444","#222","#444","#444"]},
     "legend": {"title": null, "orient": "none", "legendX": 157, "legendY": -5.7, "rowPadding": 4.4}}}}
 ],
 "resolve": {"scale": {"shape": "independent", "fill": "independent", "stroke": "independent"}}
},
{
 "data": {"name": "surv"}, "width": 218, "height": 141,
 "title": {"text": "F", "dx": -55, "offset": -5},
 "transform": [{"filter": "datum.panel === 'F' || datum.panel === 'all'"}],
 "encoding": {
  "x": {"field": "day", "type": "quantitative", "scale": {"domain": [0, 45], "nice": false}, "axis": {"title": "Days", "values": [0,5,10,15,20,25,30,35,40,45]}},
  "y": {"field": "pct", "type": "quantitative", "scale": {"domain": [0, 100]}, "axis": {"title": "Survival %", "values": [0,25,50,75,100]}}
 },
 "layer": [
  {"mark": {"type": "line", "stroke": "#333", "strokeWidth": 1}, "encoding": {"detail": {"field": "series"}}},
  {"transform": [{"filter": "datum.series !== 'Control'"}], "mark": {"type": "point", "filled": true, "stroke": "#444", "strokeWidth": 0.9, "size": 36, "opacity": 1},
   "encoding": {
    "shape": {"field": "series", "scale": {"domain": ["Control","K11B4.1","C56E6.1","B0491.5"], "range": ["square","circle","triangle-down","triangle-up"]}, "legend": null},
    "fill": {"field": "series", "scale": {"domain": ["Control","K11B4.1","C56E6.1","B0491.5"], "range": ["#111","white","#111","white"]}, "legend": null}}},
  {"transform": [{"filter": "datum.series === 'Control'"}], "mark": {"type": "point", "shape": "square", "filled": true, "fill": "#111", "stroke": "#111", "strokeWidth": 0.5, "size": 45, "opacity": 1}},
  {"transform": [{"filter": "false"}], "mark": {"type": "point", "filled": true, "strokeWidth": 1, "opacity": 1},
   "encoding": {
    "shape": {"field": "series", "scale": {"domain": ["Control","K11B4.1","C56E6.1","B0491.5"], "range": [
      "M-1.67,0H-0.58M0.58,0H1.67M-0.58,-0.58H0.58V0.58H-0.58Z",
      "M-1.67,0H-0.55M0.55,0H1.67M-0.55,0A0.55,0.55 0 1,1 0.55,0A0.55,0.55 0 1,1 -0.55,0Z",
      "M-1.67,0H-0.34M0.34,0H1.67M0,0.6L0.6,-0.45H-0.6Z",
      "M-1.67,0H-0.34M0.34,0H1.67M0,-0.6L0.6,0.45H-0.6Z"]},
     "legend": {"title": null, "orient": "none", "legendX": 154.7, "legendY": -6, "rowPadding": 4.2}},
    "fill": {"field": "series", "scale": {"domain": ["Control","K11B4.1","C56E6.1","B0491.5"], "range": ["#111","white","#111","white"]},
     "legend": {"title": null, "orient": "none", "legendX": 154.7, "legendY": -6, "rowPadding": 4.2}},
    "stroke": {"field": "series", "scale": {"domain": ["Control","K11B4.1","C56E6.1","B0491.5"], "range": ["#222","#444","#222","#444"]},
     "legend": {"title": null, "orient": "none", "legendX": 154.7, "legendY": -6, "rowPadding": 4.2}}}}
 ],
 "resolve": {"scale": {"shape": "independent", "fill": "independent", "stroke": "independent"}}
}
],
"config": {
 "view": {"stroke": null},
 "font": "Liberation Sans",
 "title": {"fontSize": 22, "fontWeight": "normal", "anchor": "start", "frame": "group", "baseline": "alphabetic", "color": "black", "font": "Liberation Sans"},
 "axis": {"grid": false, "domainColor": "#808080", "domainWidth": 1.5, "tickColor": "#808080", "tickWidth": 1, "tickSize": 4, "labelFont": "Liberation Sans", "titleFont": "Liberation Sans", "labelColor": "black", "titleColor": "black", "titleFontWeight": "normal", "titleFontSize": 14.5, "labelFlush": false, "labelOverlap": false},
 "axisX": {"labelFontSize": 14, "labelPadding": 3, "titlePadding": 6},
 "axisY": {"labelFontSize": 13, "labelPadding": 3, "titlePadding": 2},
 "legend": {"symbolSize": 144, "labelFontSize": 12, "labelFont": "Liberation Sans", "labelColor": "black", "labelOffset": 4, "padding": 0, "symbolStrokeWidth": 1, "columnPadding": 0}
}
}
